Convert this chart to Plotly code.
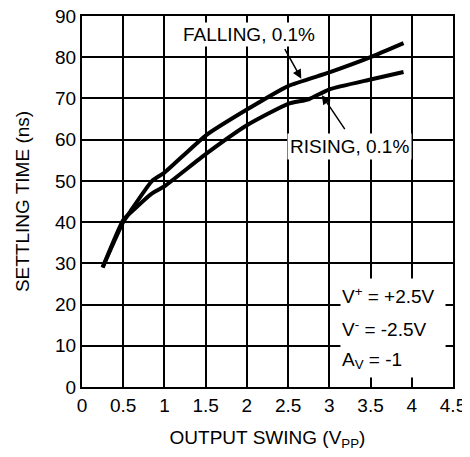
import plotly.graph_objects as go

# settling time vs output swing
falling_x = [0.25, 0.5, 0.6, 0.85, 1.0, 1.5, 2.0, 2.5, 3.0, 3.5, 3.9]
falling_y = [29, 40, 43, 50, 52, 61, 67.3, 73, 76.3, 80, 83.4]
rising_x = [0.25, 0.5, 0.6, 0.85, 1.0, 1.5, 2.0, 2.5, 2.75, 3.0, 3.5, 3.9]
rising_y = [29, 40.5, 42.5, 47, 48.7, 56.5, 63.5, 68.7, 69.8, 72.2, 74.6, 76.4]

x_ticks = [0, 0.5, 1, 1.5, 2, 2.5, 3, 3.5, 4, 4.5]
x_labels = ['0', '0.5', '1', '1.5', '2', '2.5', '3', '3.5', '4', '4.5']
y_ticks = [0, 10, 20, 30, 40, 50, 60, 70, 80, 90]

conditions = ['V<sup>+</sup> = +2.5V', 'V<sup>-</sup> = -2.5V', 'A<sub>V</sub> = -1']
condition_y = [22.2, 14.2, 6.5]

font = 'Liberation Sans, Arial, sans-serif'
fs = 19

fig = go.Figure()
fig.add_trace(go.Scatter(x=falling_x, y=falling_y, mode='lines',
                         line=dict(color='black', width=4, shape='spline', smoothing=0.5),
                         name='FALLING, 0.1%'))
fig.add_trace(go.Scatter(x=rising_x, y=rising_y, mode='lines',
                         line=dict(color='black', width=4, shape='spline', smoothing=0.5),
                         name='RISING, 0.1%'))

# curve labels with arrows
fig.add_annotation(x=2.03, y=85.4, text='FALLING, 0.1%', showarrow=False,
                   bgcolor='white', borderpad=1, font=dict(size=fs, color='black'))
fig.add_annotation(x=2.66, y=74.8, ax=2.45, ay=82.3, axref='x', ayref='y',
                   text='', showarrow=True, arrowhead=2, arrowsize=1.2,
                   arrowwidth=1.5, arrowcolor='black')
fig.add_annotation(x=3.24, y=58.3, text='RISING, 0.1%', showarrow=False,
                   bgcolor='white', borderpad=2, font=dict(size=fs, color='black'))
fig.add_annotation(x=2.91, y=70.8, ax=3.2, ay=62.2, axref='x', ayref='y',
                   text='', showarrow=True, arrowhead=2, arrowsize=1.2,
                   arrowwidth=1.5, arrowcolor='black')

# test conditions box
for txt, yy in zip(conditions, condition_y):
    fig.add_annotation(x=3.13, y=yy, text=txt, showarrow=False, xanchor='left',
                       align='left', width=102, height=31, borderpad=1,
                       bgcolor='white', font=dict(size=fs, color='black'))

fig.update_xaxes(range=[0, 4.5], tickvals=x_ticks, ticktext=x_labels,
                 showgrid=True, gridcolor='black', gridwidth=1.6,
                 showline=True, linecolor='black', linewidth=2, mirror=True,
                 zeroline=False, ticks='', automargin=False,
                 ticklabeloverflow='allow',
                 tickfont=dict(size=fs, color='black'),
                 title=dict(text='OUTPUT SWING (V<sub>PP</sub>)',
                            font=dict(size=fs, color='black'), standoff=16))
fig.update_yaxes(range=[0, 90], tickvals=y_ticks,
                 showgrid=True, gridcolor='black', gridwidth=1.6,
                 showline=True, linecolor='black', linewidth=2, mirror=True,
                 zeroline=False, ticks='', automargin=False,
                 ticklabeloverflow='allow',
                 tickfont=dict(size=fs, color='black'),
                 title=dict(text='SETTLING TIME (ns)',
                            font=dict(size=fs, color='black'), standoff=20))

# page body adds an 8px offset, so margins are shifted to compensate
fig.update_layout(width=470, height=457, showlegend=False,
                  plot_bgcolor='white', paper_bgcolor='white',
                  font=dict(family=font, color='black'),
                  margin=dict(l=74, r=25, t=8, b=78))

fig.write_html('out.html')
